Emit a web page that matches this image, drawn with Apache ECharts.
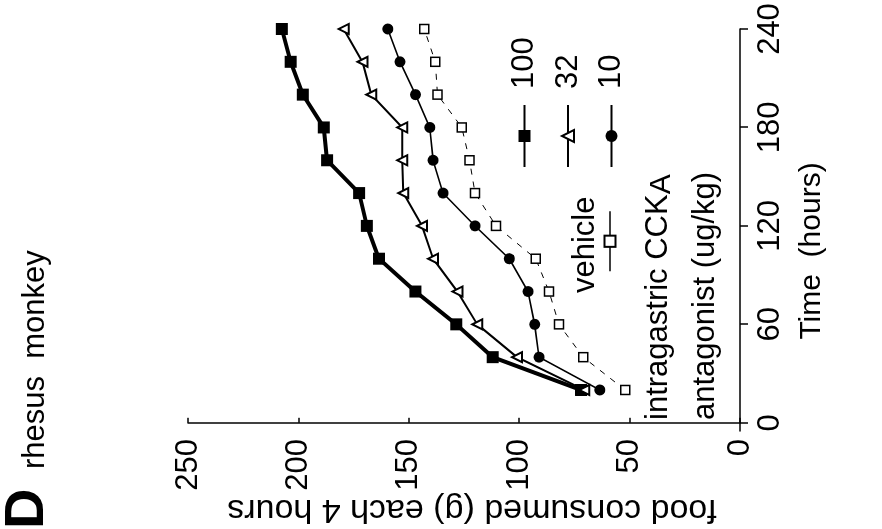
<!DOCTYPE html>
<html>
<head>
<meta charset="utf-8">
<script src="https://cdn.jsdelivr.net/npm/echarts@6/dist/echarts.min.js"></script>
<style>
    html, body { margin: 0; padding: 0; background: #fff; overflow: hidden; }
    /* the printed figure is turned a quarter turn counter-clockwise */
    #main {
        position: absolute; left: 0; top: 0;
        width: 529px; height: 882px;
        transform-origin: 0 0;
        transform: translate(0, 529px) rotate(-90deg);
    }
</style>
</head>
<body>
<div id="main"></div>
<script>
// time after start (hours)
let hours = [20, 40, 60, 80, 100, 120, 140, 160, 180, 200, 220, 240]
// cumulative food consumed (g), intragastric CCKA antagonist doses (ug/kg)
let dose100 = [72, 112, 128.5, 147, 163.5, 169, 172.5, 187, 188.5, 198, 203.5, 207.5]
let dose32 = [70.5, 101, 119, 128, 139, 144, 152.5, 153, 153, 167, 171, 179.5]
let dose10 = [63.5, 91, 93, 96, 104.5, 120, 134.5, 139, 140.5, 147, 154, 159.5]
let vehicle = [52, 71, 82, 86.5, 92.5, 110.5, 120, 122.5, 126, 137, 138, 143]

let timeTicks = [0, 60, 120, 180, 240]

let font = "'Liberation Sans', Arial, sans-serif"

function pairs(values) {
    return hours.map((h, i) => [h, values[i]])
}

let chart = echarts.init(document.getElementById('main'))

chart.setOption({
    animation: false,
    backgroundColor: '#fff',
    textStyle: {fontFamily: font, color: '#000'},
    title: [{
        text: 'D',
        left: 0, top: 0, padding: 0,
        textStyle: {fontSize: 56, fontWeight: 'bold', fontFamily: font, color: '#000'}
    }, {
        text: 'rhesus  monkey',
        left: 60, top: 20, padding: 0,
        textStyle: {fontSize: 31, fontWeight: 'normal', fontFamily: font, color: '#000'}
    }, {
        text: 'vehicle',
        left: 236, top: 570, padding: 0,
        textStyle: {fontSize: 31, fontWeight: 'normal', fontFamily: font, color: '#000'}
    }, {
        text: 'intragastric CCK{sub|A}\nantagonist (ug/kg)',
        left: 109, top: 635, padding: 0,
        textStyle: {
            fontSize: 31, lineHeight: 47, fontWeight: 'normal', fontFamily: font, color: '#000',
            rich: {
                sub: {fontSize: 30, lineHeight: 47, padding: [6, 0, 0, 0], fontFamily: font, color: '#000'}
            }
        }
    }],
    legend: [{
        data: ['100', '32', '10'],
        orient: 'vertical',
        left: 361, top: 509, padding: 0,
        itemWidth: 62, itemHeight: 15, itemGap: 12.5,
        selectedMode: false,
        textStyle: {fontSize: 31, lineHeight: 31, padding: [0, 0, 0, 11], color: '#000', fontFamily: font}
    }, {
        // vehicle key: its label sits above the line
        data: ['vehicle'],
        left: 257, top: 603, padding: 0,
        itemWidth: 60, itemHeight: 14,
        selectedMode: false,
        formatter: () => '',
        lineStyle: {type: 'solid', width: 1.5}
    }],
    grid: {
        left: 98, right: 29, top: 188, bottom: 142,
        outerBoundsMode: 'none'
    },
    xAxis: {
        type: 'value',
        min: -5, max: 240,
        name: 'Time  (hours)',
        nameLocation: 'middle',
        nameGap: 57,
        nameMoveOverlap: false,
        nameTextStyle: {fontSize: 30, color: '#000', fontFamily: font, padding: [0, 42, 0, 0]},
        axisLine: {lineStyle: {color: '#000', width: 1.5}},
        axisTick: {customValues: timeTicks, length: 8, lineStyle: {color: '#000', width: 1.5}},
        axisLabel: {customValues: timeTicks, fontSize: 31, color: '#000', fontFamily: font, margin: 15},
        splitLine: {show: false}
    },
    yAxis: {
        type: 'value',
        min: 0, max: 250, interval: 50,
        name: 'food consumed (g) each 4 hours',
        nameLocation: 'middle',
        nameGap: 61,
        nameMoveOverlap: false,
        nameTextStyle: {fontSize: 34, color: '#000', fontFamily: font, padding: [0, 16, 0, 0]},
        axisLine: {show: true, lineStyle: {color: '#000', width: 1.5}},
        axisTick: {show: true, inside: true, length: 5, lineStyle: {color: '#000', width: 1.5}},
        axisLabel: {fontSize: 31, color: '#000', fontFamily: font, margin: 8},
        splitLine: {show: false}
    },
    series: [{
        name: '100',
        type: 'line',
        data: pairs(dose100),
        symbol: 'rect', symbolSize: 12,
        itemStyle: {color: '#000'},
        lineStyle: {color: '#000', width: 4}
    }, {
        name: '32',
        type: 'line',
        data: pairs(dose32),
        symbol: 'triangle', symbolSize: 10,
        itemStyle: {color: '#fff', borderColor: '#000', borderWidth: 2},
        lineStyle: {color: '#000', width: 2}
    }, {
        name: '10',
        type: 'line',
        data: pairs(dose10),
        symbol: 'circle', symbolSize: 11,
        itemStyle: {color: '#000'},
        lineStyle: {color: '#000', width: 1.6}
    }, {
        name: 'vehicle',
        type: 'line',
        data: pairs(vehicle),
        symbol: 'rect', symbolSize: 9,
        itemStyle: {color: '#fff', borderColor: '#000', borderWidth: 1.5},
        lineStyle: {color: '#000', width: 1, type: [6, 7]}
    }]
})
</script>
</body>
</html>
